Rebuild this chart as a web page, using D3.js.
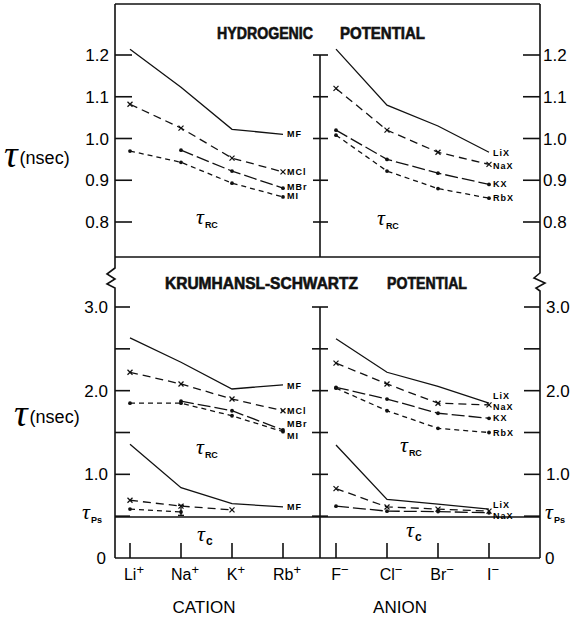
<!DOCTYPE html>
<html><head><meta charset="utf-8">
<script src="https://cdn.jsdelivr.net/npm/d3@7"></script>
<style>body{margin:0;background:#fff}</style>
</head><body><svg id="c" width="574" height="618"></svg>
<script>
// ---------- data ----------
const cations = ["Li","Na","K","Rb"];
const anions  = ["F","Cl","Br","I"];
const topTicks = [0.8,0.9,1.0,1.1,1.2];
const topTickLabels = ["0.8","0.9","1.0","1.1","1.2"];
const botTicks = [0,0.5,1.0,1.5,2.0,2.5,3.0];
const botLabelVals = [0,1.0,2.0,3.0];
const botTickLabels = ["0","1.0","2.0","3.0"];
const tauPs = 0.49;

// Hydrogenic potential, cation series (MF, MCl, MBr, MI over Li,Na,K,Rb)
const hMF  = [1.214,1.123,1.022,1.010];
const hMCl = [1.082,1.025,0.953,0.920];
const hMBr = [null,0.972,0.922,0.881];
const hMI  = [0.970,0.943,0.893,0.860];
// Hydrogenic potential, anion series (LiX, NaX, KX, RbX over F,Cl,Br,I)
const hLiX = [1.214,1.080,1.030,0.967];
const hNaX = [1.120,1.020,0.967,0.938];
const hKX  = [1.020,0.950,0.917,0.890];
const hRbX = [1.008,0.922,0.880,0.857];
// Krumhansl-Schwartz potential, cation, tau_RC
const kMF  = [2.63,2.34,2.02,2.07];
const kMCl = [2.22,2.08,1.90,1.76];
const kMBr = [null,1.875,1.76,1.53];
const kMI  = [1.85,1.85,1.70,1.51];
// Krumhansl-Schwartz, cation, lower group
const kMFlo  = [1.36,0.84,0.65,0.61];
const kMCllo = [0.69,0.62,0.575,null];
const kMIlo  = [0.585,0.55,null,null];
const kNaErr = [0.51,0.63];
// Krumhansl-Schwartz, anion, tau_RC
const kLiX = [2.62,2.22,2.05,1.85];
const kNaX = [2.33,2.08,1.85,1.83];
const kKX  = [2.04,1.90,1.73,1.67];
const kRbX = [2.03,1.76,1.55,1.50];
// Krumhansl-Schwartz, anion, lower group
const kLiXlo = [1.35,0.70,0.645,0.585];
const kNaXlo = [0.83,0.61,0.585,0.56];
const kKXlo  = [0.62,0.56,0.555,0.54];

// ---------- layout ----------
const L = 115, R = 540, M = 320, T = 4, Y1 = 257, B = 558;
const yTop = d3.scaleLinear().domain([0.8,1.2]).range([222,55]);
const yBot = d3.scaleLinear().domain([0,3]).range([558,307]);
const xC = d3.scalePoint().domain(cations).range([130,283]);
const xA = d3.scalePoint().domain(anions).range([336,489]);

const svg = d3.select("#c");
const ink = "#111";
const SANS = "Liberation Sans, Arial, sans-serif";
const SERIF = "Liberation Serif, DejaVu Serif, serif";

function line(pts){ return d3.line().defined(d=>d[1]!=null).x(d=>d[0]).y(d=>d[1])(pts); }
function seg(x1,y1,x2,y2,w){ svg.append("line").attr("x1",x1).attr("y1",y1).attr("x2",x2).attr("y2",y2)
  .attr("stroke",ink).attr("stroke-width",w||1.6); }

// frame
seg(L,T,R,T);
svg.append("path").attr("d",d3.line()([[L,T],[L,268],[L-8,274],[L,279],[L-8,284],[L,288],[L,B]]))
  .attr("stroke",ink).attr("stroke-width",1.6).attr("fill","none");
svg.append("path").attr("d",d3.line()([[R,T],[R,273],[R-6,278],[R+5,283],[R-4,288],[R,291],[R,B]]))
  .attr("stroke",ink).attr("stroke-width",1.6).attr("fill","none");
seg(L,Y1,R,Y1);
seg(L,B,R,B);
seg(M,yTop(1.2),M,Y1);
seg(M,yBot(3),M,B);
seg(L,yBot(tauPs),R,yBot(tauPs),1.3);

// ticks top
topTicks.forEach((t,i)=>{
  const y = yTop(t);
  seg(L,y,L+17,y); seg(R-17,y,R,y); seg(M-7,y,M+8,y);
  svg.append("text").attr("x",109).attr("y",y+6).attr("text-anchor","end")
    .attr("font-family",SANS).attr("font-size",17).text(topTickLabels[i]);
  svg.append("text").attr("x",543).attr("y",y+6)
    .attr("font-family",SANS).attr("font-size",17).text(topTickLabels[i]);
});
// ticks bottom
botTicks.forEach(t=>{
  const y = yBot(t);
  if (t>0){ seg(L,y,L+15,y); seg(R-16,y,R,y); seg(M-8,y,M+8,y); }
});
botLabelVals.forEach((t,i)=>{
  const y = yBot(t);
  svg.append("text").attr("x",t===0?106:108).attr("y",y+6).attr("text-anchor","end")
    .attr("font-family",SANS).attr("font-size",17).text(botTickLabels[i]);
  svg.append("text").attr("x",t===0?545:546).attr("y",y+6)
    .attr("font-family",SANS).attr("font-size",17).text(botTickLabels[i]);
});
// category ticks
cations.forEach(c=>seg(xC(c),B,xC(c),B-15));
anions.forEach(a=>seg(xA(a),B,xA(a),B-15));

// category labels
function catLabel(x,base,sup){
  const t = svg.append("text").attr("x",x+4).attr("y",580).attr("text-anchor","middle")
    .attr("font-family",SANS).attr("font-size",16);
  t.append("tspan").text(base);
  t.append("tspan").attr("dy",-6).attr("font-size",13).text(sup);
}
cations.forEach(c=>catLabel(xC(c),c,"+"));
anions.forEach(a=>catLabel(xA(a),a,"\u2212"));

svg.append("text").attr("x",204).attr("y",613).attr("text-anchor","middle")
  .attr("font-family",SANS).attr("font-size",17).text("CATION");
svg.append("text").attr("x",400).attr("y",613).attr("text-anchor","middle")
  .attr("font-family",SANS).attr("font-size",17).text("ANION");

// titles
function title(x,y,txt,len){
  svg.append("text").attr("x",x).attr("y",y).attr("font-family",SANS).attr("font-weight","bold")
    .attr("font-size",16).attr("textLength",len).attr("lengthAdjust","spacingAndGlyphs")
    .attr("stroke",ink).attr("stroke-width",0.6).attr("fill",ink).text(txt);
}
title(217,39,"HYDROGENIC",96);
title(340,39,"POTENTIAL",85);
title(165,289,"KRUMHANSL-SCHWARTZ",193);
title(387,289,"POTENTIAL",80);

// axis labels tau(nsec)
function yLabel(x,y){
  const t = svg.append("text").attr("x",x).attr("y",y);
  t.append("tspan").attr("font-family",SERIF).attr("font-style","italic").attr("font-size",38).text("\u03c4");
  t.append("tspan").attr("font-family",SANS).attr("font-size",18).attr("dx",2).attr("dy",-3).text("(nsec)");
}
yLabel(4,167);
yLabel(14,426);

// tau labels
function tauLab(x,y,sub,fs){
  const t = svg.append("text").attr("x",x).attr("y",y);
  t.append("tspan").attr("font-family",SERIF).attr("font-style","italic").attr("font-size",fs||22).text("\u03c4");
  t.append("tspan").attr("font-family",SANS).attr("font-weight","bold").attr("font-size",sub.length>1?9:12)
    .attr("dx",1).attr("dy",4).text(sub);
}
tauLab(196,224,"RC");
tauLab(377,225,"RC");
tauLab(196,454,"RC");
tauLab(400,452,"RC");
tauLab(197,541,"c");
tauLab(406,537,"c");
tauLab(82,519,"Ps");
tauLab(545,519,"Ps");

// ---------- series ----------
const styles = {
  solid:{dash:null, mark:null},
  x:{dash:"8,5", mark:"x"},
  long:{dash:"13,4", mark:"dot"},
  short:{dash:"5,4", mark:"dot"}
};
function drawSeries(vals, xs, cats, y, st, lab, dy){
  const pts = vals.map((v,i)=>[xs(cats[i]), v==null?null:y(v)]);
  const s = styles[st];
  const p = svg.append("path").attr("d",line(pts)).attr("fill","none")
    .attr("stroke",ink).attr("stroke-width",1.3);
  if (s.dash) p.attr("stroke-dasharray",s.dash);
  pts.forEach(d=>{
    if (d[1]==null) return;
    if (s.mark==="x"){
      seg(d[0]-2.5,d[1]-2.5,d[0]+2.5,d[1]+2.5,1.2);
      seg(d[0]-2.5,d[1]+2.5,d[0]+2.5,d[1]-2.5,1.2);
    } else if (s.mark==="dot"){
      svg.append("circle").attr("cx",d[0]).attr("cy",d[1]).attr("r",1.9).attr("fill",ink);
    }
  });
  if (lab){
    const last = pts.filter(d=>d[1]!=null).pop();
    svg.append("text").attr("x",last[0]+4).attr("y",last[1]+3.5+(dy||0))
      .attr("font-family",SANS).attr("font-weight","bold").attr("font-size",9)
      .attr("letter-spacing",1).text(lab);
  }
}
// top cation
drawSeries(hMF,xC,cations,yTop,"solid","MF",-1);
drawSeries(hMCl,xC,cations,yTop,"x","MCl",0);
drawSeries(hMBr,xC,cations,yTop,"long","MBr",-2);
drawSeries(hMI,xC,cations,yTop,"short","MI",-1);
// top anion
drawSeries(hLiX,xA,anions,yTop,"solid","LiX",0);
drawSeries(hNaX,xA,anions,yTop,"x","NaX",1);
drawSeries(hKX,xA,anions,yTop,"long","KX",-1);
drawSeries(hRbX,xA,anions,yTop,"short","RbX",-1);
// bottom cation
drawSeries(kMF,xC,cations,yBot,"solid","MF",1);
drawSeries(kMCl,xC,cations,yBot,"x","MCl",0);
drawSeries(kMBr,xC,cations,yBot,"long","MBr",-6);
drawSeries(kMI,xC,cations,yBot,"short","MI",4);
drawSeries(kMFlo,xC,cations,yBot,"solid","MF",0);
drawSeries(kMCllo,xC,cations,yBot,"x",null);
drawSeries(kMIlo,xC,cations,yBot,"short",null);
seg(xC("Na"),yBot(kNaErr[0]),xC("Na"),yBot(kNaErr[1]),1.3);
seg(xC("Na")-3,yBot(kNaErr[0]),xC("Na")+3,yBot(kNaErr[0]),1.3);
seg(xC("Na")-3,yBot(kNaErr[1]),xC("Na")+3,yBot(kNaErr[1]),1.3);
// bottom anion
drawSeries(kLiX,xA,anions,yBot,"solid","LiX",-8);
drawSeries(kNaX,xA,anions,yBot,"x","NaX",2);
drawSeries(kKX,xA,anions,yBot,"long","KX",-1);
drawSeries(kRbX,xA,anions,yBot,"short","RbX",0);
drawSeries(kLiXlo,xA,anions,yBot,"solid","LiX",-5);
drawSeries(kNaXlo,xA,anions,yBot,"x","NaX",4);
drawSeries(kKXlo,xA,anions,yBot,"long",null);
</script></body></html>
